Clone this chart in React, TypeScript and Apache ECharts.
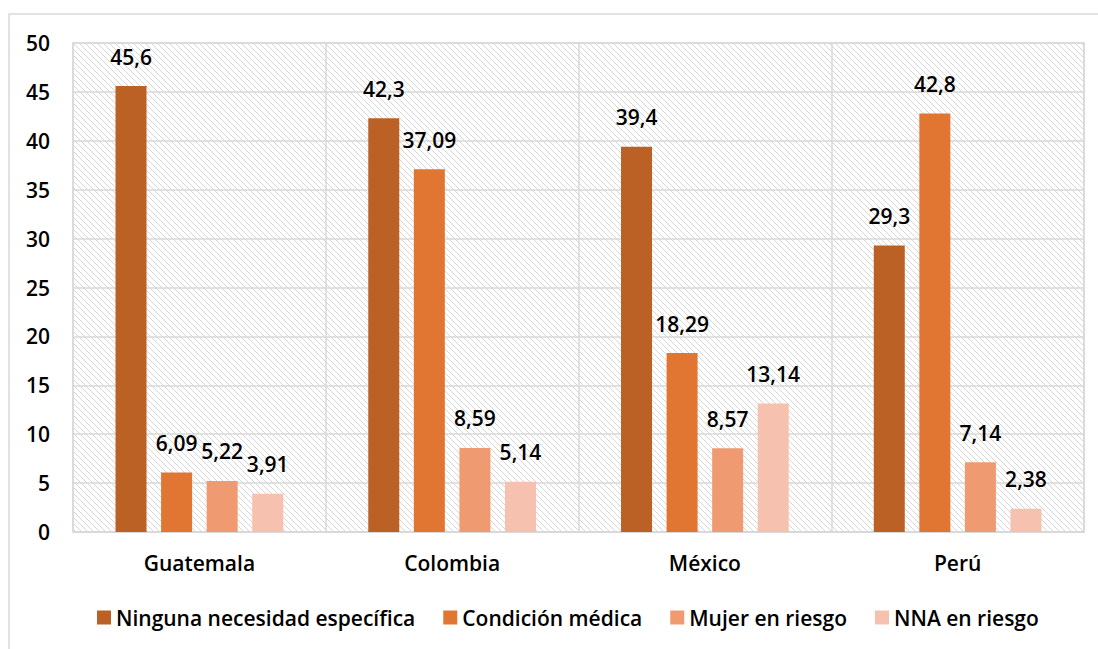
import React, { useEffect, useRef } from "react";
import * as echarts from "echarts";

const categories = ["Guatemala", "Colombia", "México", "Perú"];
const seriesNames = ["Ninguna necesidad específica", "Condición médica", "Mujer en riesgo", "NNA en riesgo"];
const ninguna = [45.6, 42.3, 39.4, 29.3];
const condicion = [6.09, 37.09, 18.29, 42.8];
const mujer = [5.22, 8.59, 8.57, 7.14];
const nna = [3.91, 5.14, 13.14, 2.38];
const colors = ["#BC6125", "#E07631", "#F09A72", "#F6C2AF"];

const FONT = "'Open Sans', 'Noto Sans', sans-serif";

function makeHatch(): string {
  const c = document.createElement("canvas");
  const n = 6;
  c.width = n;
  c.height = n;
  const ctx = c.getContext("2d")!;
  ctx.fillStyle = "#ffffff";
  ctx.fillRect(0, 0, n, n);
  ctx.fillStyle = "#d6d6d6";
  for (let i = 0; i < n; i++) ctx.fillRect(i, i, 1, 1);
  return c.toDataURL();
}

export default function App() {
  const ref = useRef<HTMLDivElement>(null);
  useEffect(() => {
    if (!ref.current) return;
    const chart = echarts.init(ref.current, null, { renderer: "svg" });
    const img = new Image();
    img.src = makeHatch();
    const data = [ninguna, condicion, mujer, nna];
    const txt = { fontFamily: FONT, fontSize: 21, fontWeight: 600, color: "#000" };
    const option: any = {
      animation: false,
      backgroundColor: "#ffffff",
      graphic: [
        {
          type: "rect",
          shape: { x: 9, y: 14, width: 1200, height: 700 },
          style: { fill: "none", stroke: "#d9d9d9", lineWidth: 1.5 },
          silent: true,
          z: -10,
        },
      ],
      grid: {
        left: 73,
        top: 43,
        right: 14,
        bottom: 117,
        show: true,
        backgroundColor: { image: img, repeat: "repeat" },
        borderColor: "#d9d9d9",
        borderWidth: 1.5,
      },
      legend: {
        data: seriesNames,
        left: 92,
        top: 602,
        itemWidth: 14,
        itemHeight: 14,
        itemGap: 28,
        icon: "rect",
        textStyle: { ...txt },
      },
      xAxis: {
        type: "category",
        data: categories,
        axisTick: { show: false },
        axisLine: { lineStyle: { color: "#d9d9d9", width: 1.5 } },
        splitLine: { show: true, lineStyle: { color: "#d9d9d9", width: 1.5 } },
        axisLabel: { ...txt, margin: 20 },
      },
      yAxis: {
        type: "value",
        min: 0,
        max: 50,
        interval: 5,
        axisLine: { show: false },
        axisTick: { show: false },
        splitLine: { lineStyle: { color: "#d9d9d9", width: 1.5 } },
        axisLabel: { ...txt, margin: 23 },
      },
      series: seriesNames.map((name, i) => ({
        name,
        type: "bar",
        data: data[i],
        barWidth: 31,
        barGap: "47%",
        itemStyle: { color: colors[i] },
        label: {
          show: true,
          position: "top",
          distance: 19,
          ...txt,
          formatter: (p: any) => String(p.value).replace(".", ","),
        },
      })),
    };
    const apply = () => chart.setOption(option);
    if (img.complete) apply();
    else img.onload = apply;
    apply();
    return () => chart.dispose();
  }, []);
  return <div ref={ref} style={{ position: "absolute", left: 0, top: 0, width: 1098, height: 649 }} />;
}
